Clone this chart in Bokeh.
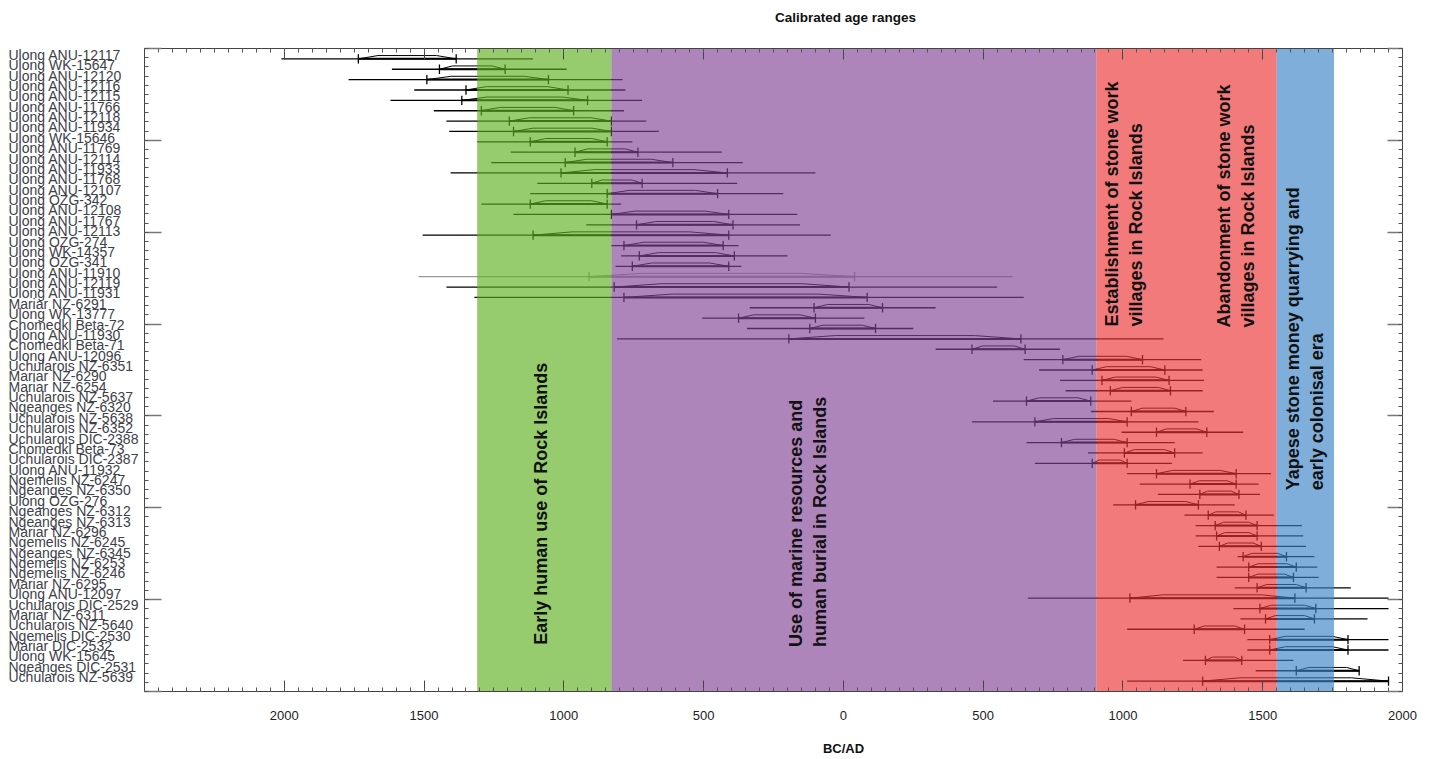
from math import pi
from bokeh.plotting import figure
from bokeh.models import Range1d, FixedTicker, LinearAxis
from bokeh.layouts import row, column
from bokeh.embed import file_html
from bokeh.resources import INLINE
from bokeh.core.properties import value

# ---------------- data ----------------
samples = [
    "Ulong ANU-12117", "Ulong WK-15647", "Ulong ANU-12120", "Ulong ANU-12116",
    "Ulong ANU-12115", "Ulong ANU-11766", "Ulong ANU-12118", "Ulong ANU-11934",
    "Ulong WK-15646", "Ulong ANU-11769", "Ulong ANU-12114", "Ulong ANU-11933",
    "Ulong ANU-11768", "Ulong ANU-12107", "Ulong OZG-342", "Ulong ANU-12108",
    "Ulong ANU-11767", "Ulong ANU-12113", "Ulong OZG-274", "Ulong WK-14357",
    "Ulong OZG-341", "Ulong ANU-11910", "Ulong ANU-12119", "Ulong ANU-11931",
    "Mariar NZ-6291", "Ulong WK-13777", "Chomedkl Beta-72", "Ulong ANU-11930",
    "Chomedkl Beta-71", "Ulong ANU-12096", "Uchularois NZ-6351", "Mariar NZ-6290",
    "Mariar NZ-6254", "Uchularois NZ-5637", "Ngeanges NZ-6320", "Uchularois NZ-5638",
    "Uchularois NZ-6352", "Uchularois DIC-2388", "Chomedkl Beta-73", "Uchularois DIC-2387",
    "Ulong ANU-11932", "Ngemelis NZ-6247", "Ngeanges NZ-6350", "Ulong OZG-276",
    "Ngeanges NZ-6312", "Ngeanges NZ-6313", "Mariar NZ-6296", "Ngemelis NZ-6245",
    "Ngeanges NZ-6345", "Ngemelis NZ-6253", "Ngemelis NZ-6246", "Mariar NZ-6295",
    "Ulong ANU-12097", "Uchularois DIC-2529", "Mariar NZ-6311", "Uchularois NZ-5640",
    "Ngemelis DIC-2530", "Mariar DIC-2532", "Ulong WK-15645", "Ngeanges DIC-2531",
    "Uchularois NZ-5639",
]

# full plotted extent of each calibrated distribution (BC negative, AD positive)
line_start = [
    -2010, -1615, -1770, -1535, -1620, -1465, -1420, -1410, -1310, -1190,
    -1260, -1405, -1095, -1120, -1295, -1180, -920, -1505, -830, -795,
    -815, -1520, -1420, -1320, -335, -505, -345, -810, 330, 645,
    700, 775, 795, 535, 885, 460, 995, 655, 875, 685,
    1015, 1060, 1125, 965, 1220, 1260, 1260, 1270, 1410, 1335,
    1335, 1400, 660, 1395, 1420, 1015, 1445, 1445, 1215, 1475,
    1015,
]
line_end = [
    -1110, -990, -790, -780, -720, -785, -705, -660, -755, -435,
    -360, -100, -380, -215, -795, -165, -155, -45, -375, -200,
    -365, 605, 550, 645, 330, 75, 250, 1145, 775, 1280,
    1285, 1290, 1285, 1030, 1325, 1270, 1430, 1185, 1285, 1175,
    1530, 1485, 1490, 1400, 1540, 1640, 1645, 1655, 1685, 1695,
    1700, 1815, 1950, 1950, 1875, 1650, 1950, 1950, 1610, 1845,
    1950,
]
# 95.4% calibrated range
range_start = [
    -1735, -1445, -1490, -1350, -1365, -1295, -1195, -1180, -1120, -960,
    -995, -1010, -900, -845, -1120, -830, -740, -1110, -785, -730,
    -755, -910, -820, -785, -105, -375, -120, -195, 460, 785,
    890, 925, 955, 655, 1030, 685, 1120, 780, 1005, 890,
    1120, 1240, 1275, 1045, 1305, 1330, 1335, 1345, 1430, 1450,
    1450, 1480, 1025, 1490, 1510, 1255, 1525, 1525, 1295, 1620,
    1285,
]
range_end = [
    -1385, -1210, -1055, -985, -915, -965, -830, -830, -845, -735,
    -610, -415, -720, -450, -845, -410, -395, -410, -430, -390,
    -410, 40, 20, 85, 140, -100, 115, 635, 650, 1070,
    1150, 1165, 1170, 885, 1225, 1015, 1300, 1015, 1185, 1015,
    1405, 1405, 1415, 1270, 1440, 1480, 1480, 1495, 1585, 1620,
    1610, 1655, 1615, 1690, 1685, 1435, 1805, 1805, 1425, 1845,
    1950,
]

phase_start = [-1310, -830, 905, 1550]
phase_end = [-830, 905, 1550, 1755]
phase_colors = ["#5eaf20", "#814495", "#eb3333", "#3983c5"]

phase_texts = [
    "Early human use of Rock Islands",
    "Use of marine resources and\nhuman burial in Rock Islands",
    "Establishment of stone work\nvillages in Rock Islands",
    "Abandonment of stone work\nvillages in Rock Islands",
    "Yapese stone money quarrying and\nearly colonisal era",
]
phase_text_x = [-1083, -125, 1002, 1405, 1652]
phase_text_y = [56.5, 56.7, 25.8, 25.9, 41.6]

x_major = list(range(-2000, 2001, 500))
x_minor = list(range(-2500, 2001, 50))

# ---------------- layout constants ----------------
FONT = "Liberation Sans"
n = len(samples)
rows = list(range(n))
outlier_rows = {21}
row_colors = ["#9a9a9a" if i in outlier_rows else "#000000" for i in rows]

LAB_W, MAIN_W = 141, 1281
TITLE_H, FOOT_H = 30, 27
FRAME_H = 643
TOP, BOTTOM = 18, 40
H = TOP + FRAME_H + BOTTOM
y_range = Range1d(n, -1)
y_major = [-1 + k * (n + 1) / 7 for k in range(8)]
y_minor = [-1 + k * (n + 1) / 70 for k in range(71)]

p = figure(width=MAIN_W, height=H, x_range=Range1d(-2500, 2000), y_range=y_range,
           output_backend="svg", toolbar_location=None,
           min_border_left=3, min_border_right=20,
           min_border_top=TOP, min_border_bottom=BOTTOM)
p.grid.visible = False
p.outline_line_color = "#444444"
p.background_fill_color = "white"

# distributions
p.segment(x0=line_start, y0=rows, x1=line_end, y1=rows, line_color=row_colors, line_width=1.3)
p.segment(x0=range_start, y0=rows, x1=range_end, y1=rows, line_color=row_colors, line_width=2)
tick_top = [r - 0.45 for r in rows]
tick_bot = [r + 0.45 for r in rows]
p.segment(x0=range_start, y0=tick_top, x1=range_start, y1=tick_bot, line_color=row_colors, line_width=1.3)
p.segment(x0=range_end, y0=tick_top, x1=range_end, y1=tick_bot, line_color=row_colors, line_width=1.3)
hump_xs = [[a, a + 0.2 * (b - a), b - 0.2 * (b - a), b] for a, b in zip(range_start, range_end)]
hump_ys = [[r, r - 0.32, r - 0.32, r] for r in rows]
p.multi_line(xs=hump_xs, ys=hump_ys, line_color=row_colors, line_width=1)

# phases (translucent over the lines)
p.quad(left=phase_start, right=phase_end, bottom=n, top=-1,
       fill_color=phase_colors, fill_alpha=0.65, line_color=None)

p.text(x=phase_text_x, y=phase_text_y, text=phase_texts, angle=pi / 2,
       text_align="left", text_baseline="middle", text_font=value(FONT),
       text_font_style="bold", text_font_size="18px", text_line_height=1.2,
       text_color="#111111")

# axes
def style_ticks(ax, major_in, minor_in, ticks=None):
    ax.major_tick_in = major_in
    ax.major_tick_out = 0
    ax.minor_tick_in = minor_in
    ax.minor_tick_out = 0
    ax.axis_line_color = "#444444"
    ax.major_tick_line_color = "#444444"
    ax.minor_tick_line_color = "#555555"
    if ticks is not None:
        ax.major_label_overrides = {t: "" for t in ticks}
        ax.major_label_text_font_size = "1px"
        ax.major_label_standoff = 0

xa = p.xaxis[0]
xa.ticker = FixedTicker(ticks=x_major, minor_ticks=x_minor)
style_ticks(xa, 11, 4)
xa.major_label_overrides = {t: str(abs(t)) for t in x_major}
xa.major_label_standoff = 19
xa.major_label_text_font = FONT
xa.major_label_text_font_size = "13px"
xa.major_label_text_color = "#222222"

top_ax = LinearAxis(ticker=FixedTicker(ticks=x_major, minor_ticks=x_minor))
style_ticks(top_ax, 11, 4, x_major)
p.add_layout(top_ax, "above")

ya = p.yaxis[0]
ya.ticker = FixedTicker(ticks=y_major, minor_ticks=y_minor)
style_ticks(ya, 17, 4, y_major)
ya.major_tick_line_color = "#777777"
ya.major_tick_line_width = 1.5

right_ax = LinearAxis(ticker=FixedTicker(ticks=y_major, minor_ticks=y_minor))
style_ticks(right_ax, 15, 4, y_major)
right_ax.major_tick_line_color = "#777777"
right_ax.major_tick_line_width = 1.5
p.add_layout(right_ax, "right")

# sample label column
lab = figure(width=LAB_W, height=H, x_range=Range1d(0, 1), y_range=y_range,
             output_backend="svg", toolbar_location=None,
             x_axis_location=None, y_axis_location=None,
             min_border_left=8, min_border_right=0,
             min_border_top=TOP, min_border_bottom=BOTTOM)
lab.grid.visible = False
lab.outline_line_color = None
lab.text(x=[0] * n, y=rows, text=samples, text_align="left", text_baseline="middle",
         y_offset=-4, text_font=value(FONT), text_font_size="14px", text_color="#404048")

# title strip and axis-title strip (pixel coordinates)
def strip(h):
    f = figure(width=LAB_W + MAIN_W, height=h, x_range=Range1d(0, LAB_W + MAIN_W),
               y_range=Range1d(h, 0), output_backend="svg", toolbar_location=None,
               x_axis_location=None, y_axis_location=None, min_border=0)
    f.grid.visible = False
    f.outline_line_color = None
    return f

title_fig = strip(TITLE_H)
title_fig.text(x=[845], y=[17], text=["Calibrated age ranges"], text_align="center",
               text_baseline="middle", text_font=value(FONT), text_font_size="13.5px",
               text_font_style="bold", text_color="#111111")

foot_fig = strip(FOOT_H)
foot_fig.text(x=[843], y=[17], text=["BC/AD"], text_align="center",
              text_baseline="middle", text_font=value(FONT), text_font_size="13px",
              text_font_style="bold", text_color="#111111")

layout = column(title_fig, row(lab, p), foot_fig)
open("out.html", "w").write(file_html(layout, INLINE))
